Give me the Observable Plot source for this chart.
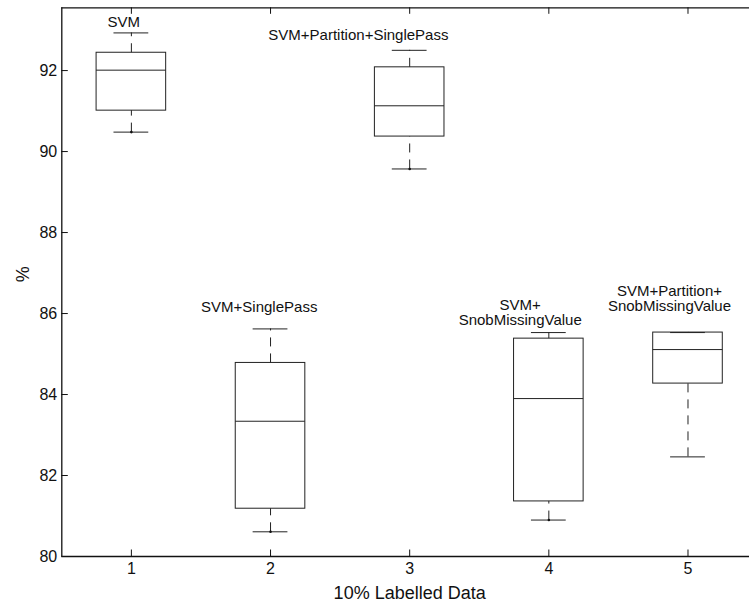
<!DOCTYPE html>
<html>
<head>
<meta charset="utf-8">
<script src="https://cdn.jsdelivr.net/npm/d3@7"></script>
<script src="https://cdn.jsdelivr.net/npm/@observablehq/plot@0.6"></script>
<style>
  html, body { margin: 0; padding: 0; background: #fff; overflow: hidden; }
  #chart { width: 749px; height: 605px; overflow: hidden; }
  #chart svg { display: block; }
</style>
</head>
<body>
<div id="chart"></div>
<script>
// Accuracy (%) of five methods with 10% labelled data, summarised as box plots.
const groups = [1, 2, 3, 4, 5];
const names = [
  "SVM",
  "SVM+SinglePass",
  "SVM+Partition+SinglePass",
  "SVM+\nSnobMissingValue",
  "SVM+Partition+\nSnobMissingValue"
];
const whiskerHigh   = [92.93, 85.62, 92.50, 85.53, 85.53];
const upperQuartile = [92.44, 84.78, 92.08, 85.38, 85.53];
const median        = [92.01, 83.34, 91.13, 83.90, 85.11];
const lowerQuartile = [91.01, 81.18, 90.37, 81.36, 84.27];
const whiskerLow    = [90.48, 80.61, 89.57, 80.90, 82.46];

// single observations marked at the lower whisker ends
const pointGroups = [1, 2, 3, 4];
const pointValues = [90.48, 80.61, 89.57, 80.90];

const xTicks = [1, 2, 3, 4, 5];
const yTicks = [80, 82, 84, 86, 88, 90, 92];
const xLabel = "10% Labelled Data";
const yLabel = "%";

const boxes = groups.map((g, k) => ({
  g,
  name: names[k],
  hi: whiskerHigh[k],
  q3: upperQuartile[k],
  med: median[k],
  q1: lowerQuartile[k],
  lo: whiskerLow[k]
}));
const points = pointGroups.map((g, k) => ({g, v: pointValues[k]}));

const W = 749, H = 605;
const mLeft = 61.3, mTop = 7.3, mBottom = 49, mRight = 0;
const innerW = W - mLeft - mRight, innerH = H - mTop - mBottom;
// the x axis is cut by the page edge just before 5.5
const xDomain = [0.5, 5.442];
const yDomain = [80, 93.55];
const tickLen = 6.5;
const ink = "#111";
const boxInk = "#222";

// label placement (pixels) relative to each group's upper whisker end
const labelShift = [[-7.7, -5.6], [-11.3, -17], [-51.3, -10.2], [-28.6, -7.7], [-18.5, -21.7]];

const labelMarks = boxes.map((b, k) =>
  Plot.text([b], {
    x: "g", y: "hi", text: "name",
    dx: labelShift[k][0], dy: labelShift[k][1],
    lineAnchor: "bottom", lineHeight: 1.02, fontSize: 15, fill: ink
  })
);

const chart = Plot.plot({
  width: W,
  height: H,
  marginLeft: mLeft,
  marginRight: mRight,
  marginTop: mTop,
  marginBottom: mBottom,
  style: {
    fontFamily: "'Liberation Sans', Arial, Helvetica, sans-serif",
    fontSize: "16px",
    background: "#fff",
    color: ink
  },
  x: {type: "linear", domain: xDomain, ticks: xTicks, tickSize: 0, tickPadding: 5.7, tickFormat: d => String(d), label: null},
  y: {type: "linear", domain: yDomain, ticks: yTicks, tickSize: 0, tickPadding: 4.6, tickFormat: d => String(d), label: null},
  marks: [
    // axis frame: left, bottom, top
    Plot.ruleX([xDomain[0]], {x: d => d, stroke: ink, strokeWidth: 1.3}),
    Plot.ruleY([yDomain[0]], {y: d => d, stroke: ink, strokeWidth: 1.3}),
    Plot.ruleY([yDomain[1]], {y: d => d, stroke: ink, strokeWidth: 1.3}),
    // inward tick marks
    Plot.ruleX(xTicks, {x: d => d, insetBottom: innerH - tickLen, stroke: ink}),
    Plot.ruleX(xTicks, {x: d => d, insetTop: innerH - tickLen, stroke: ink}),
    Plot.ruleY(yTicks, {y: d => d, insetRight: innerW - tickLen, stroke: ink}),
    // whiskers (dashed), drawn upward from their lower ends
    Plot.ruleX(boxes, {x: "g", y1: "q3", y2: "hi", stroke: boxInk, strokeDasharray: "9,7"}),
    Plot.ruleX(boxes, {x: "g", y1: "lo", y2: "q1", stroke: boxInk, strokeDasharray: "9,7"}),
    // whisker caps
    Plot.ruleY(boxes, {y: "hi", x1: d => d.g - 0.125, x2: d => d.g + 0.125, stroke: boxInk}),
    Plot.ruleY(boxes, {y: "lo", x1: d => d.g - 0.125, x2: d => d.g + 0.125, stroke: boxInk}),
    // boxes and medians
    Plot.rect(boxes, {x1: d => d.g - 0.25, x2: d => d.g + 0.25, y1: "q1", y2: "q3", fill: "none", stroke: boxInk}),
    Plot.ruleY(boxes, {y: "med", x1: d => d.g - 0.25, x2: d => d.g + 0.25, stroke: boxInk}),
    Plot.dot(points, {x: "g", y: "v", r: 1.3, fill: ink, stroke: null}),
    ...labelMarks,
    // axis titles
    Plot.text([xLabel], {x: () => 3, frameAnchor: "bottom", dy: 42.7, lineAnchor: "bottom", fontSize: 18, fill: ink, text: d => d}),
    Plot.text([yLabel], {frameAnchor: "left", dx: -38.8, rotate: -90, lineAnchor: "middle", fontSize: 18, fill: ink, text: d => d})
  ]
});

document.getElementById("chart").appendChild(chart);
</script>
</body>
</html>
